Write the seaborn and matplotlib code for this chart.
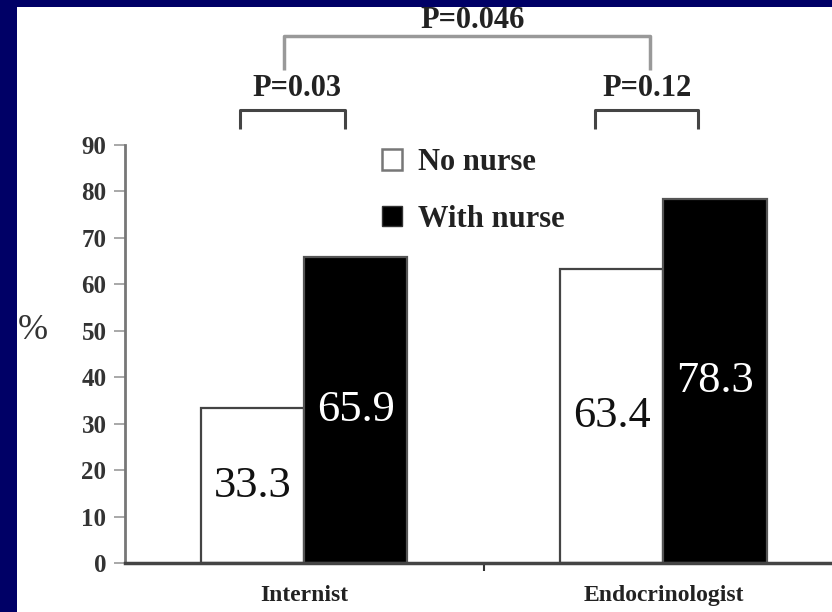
import matplotlib
matplotlib.use("Agg")
import matplotlib.pyplot as plt
from matplotlib.patches import Rectangle, Patch
import seaborn as sns
import pandas as pd

# ---- data ----
categories = ["Internist", "Endocrinologist"]
groups = ["No nurse", "With nurse"]
no_nurse = [33.3, 63.4]
with_nurse = [65.9, 78.3]
y_ticks = [0, 10, 20, 30, 40, 50, 60, 70, 80, 90]
p_overall = "P=0.046"
p_within = ["P=0.03", "P=0.12"]

df = pd.DataFrame({
    "category": categories * 2,
    "group": [groups[0]] * len(categories) + [groups[1]] * len(categories),
    "value": no_nurse + with_nurse,
})

sns.set_theme(style="white")
plt.rcParams["font.family"] = ["Liberation Serif", "DejaVu Serif"]

W, H = 832, 612
fig = plt.figure(figsize=(W / 100, H / 100), dpi=100)
fig.patch.set_facecolor("white")

# axes placed in pixel terms: y-axis at x=124, baseline y=563, top (90) y=145
ax_left, ax_bottom, ax_top = 124.5, 563, 145
ax_w = 718.5
ax = fig.add_axes([ax_left / W, 1 - ax_bottom / H, ax_w / W, (ax_bottom - ax_top) / H])
ax.set_facecolor("white")

sns.barplot(data=df, x="category", y="value", hue="group", order=categories,
            hue_order=groups, palette={groups[0]: "white", groups[1]: "black"},
            width=0.575, legend=False, ax=ax, saturation=1)

for i, bar in enumerate(ax.patches):
    bar.set_linewidth(1.6)
    bar.set_edgecolor("#444444" if i < len(categories) else "#555555")

ax.set_xlim(-0.5, 1.5)
ax.set_ylim(0, 90)
ax.set_yticks(y_ticks)
ax.set_yticklabels([str(t) for t in y_ticks], fontsize=18, fontweight="bold", color="#333333")
ax.tick_params(axis="y", direction="out", length=8, width=1.2, color="#999999", pad=5, left=True)

ax.set_xticks(range(len(categories)))
ax.set_xticklabels(categories, fontsize=17, fontweight="bold", color="#222222")
ax.tick_params(axis="x", which="major", length=0, pad=16)
ax.set_xticks([0.5], minor=True)
ax.tick_params(axis="x", which="minor", direction="out", length=6, width=1.5, color="#333333", bottom=True)
ax.set_xlabel("")

ax.set_ylabel("%", rotation=0, fontsize=26, color="#333333")
ax.yaxis.set_label_coords(-0.128, 0.517)

for s in ["top", "right"]:
    ax.spines[s].set_visible(False)
ax.spines["left"].set_color("#777777")
ax.spines["left"].set_linewidth(2)
ax.spines["bottom"].set_color("#444444")
ax.spines["bottom"].set_linewidth(2.5)

# value labels inside bars
containers = ax.containers
ax.bar_label(containers[0], labels=[f"{v:.1f}" for v in no_nurse], label_type="center",
             fontsize=32, color="#111111")
ax.bar_label(containers[1], labels=[f"{v:.1f}" for v in with_nurse], label_type="center",
             fontsize=32, color="white")

# significance brackets (data coordinates, outside the axes)
def bracket(x0, x1, ytop, ybot, color, lw):
    ax.plot([x0, x0, x1, x1], [ybot, ytop, ytop, ybot], color=color, lw=lw,
            clip_on=False, solid_capstyle="butt")

bracket(-0.056, 0.964, 113.5, 106.2, "#999999", 2.5)
bracket(-0.178, 0.114, 97.6, 93.5, "#444444", 2.2)
bracket(0.811, 1.097, 97.6, 93.5, "#444444", 2.2)

ptxt = dict(ha="center", va="center", fontsize=22, fontweight="bold",
            color="#222222", clip_on=False)
ax.text(0.468, 116.8, p_overall, **ptxt)
ax.text(-0.02, 102.2, p_within[0], **ptxt)
ax.text(0.955, 102.2, p_within[1], **ptxt)

# legend
handles = [Patch(facecolor="white", edgecolor="#777777", linewidth=1.8, label=groups[0]),
           Patch(facecolor="black", edgecolor="#333333", linewidth=1.0, label=groups[1])]
leg = ax.legend(handles=handles, loc="upper left", bbox_to_anchor=(367 / W, 1 - 133 / H),
                bbox_transform=fig.transFigure, frameon=False, borderpad=0,
                handlelength=0.65, handleheight=0.65, handletextpad=0.52,
                labelspacing=0.9, prop={"family": "Liberation Serif", "weight": "bold", "size": 22})
for t in leg.get_texts():
    t.set_color("#222222")

# navy slide border (top and left)
navy = "#000066"
fig.patches.append(Rectangle((0, 1 - 7 / H), 1, 7 / H, transform=fig.transFigure,
                             facecolor=navy, edgecolor="none", zorder=10))
fig.patches.append(Rectangle((0, 0), 17 / W, 1, transform=fig.transFigure,
                             facecolor=navy, edgecolor="none", zorder=10))

fig.savefig("out.png", dpi=100)
